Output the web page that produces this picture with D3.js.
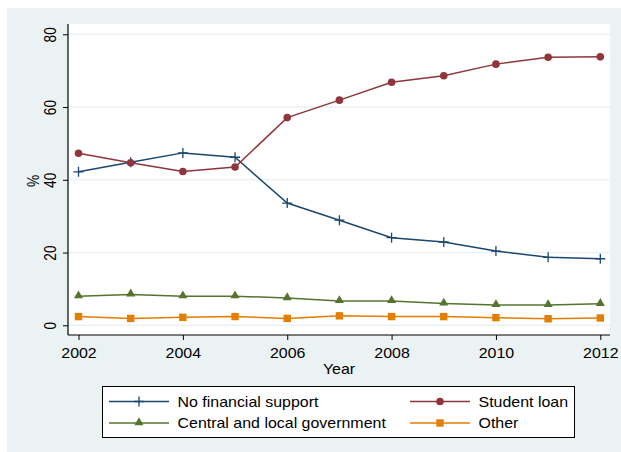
<!DOCTYPE html>
<html><head><meta charset="utf-8">
<script src="https://cdn.jsdelivr.net/npm/d3@7"></script>
<style>body{margin:0;background:#fff}svg{display:block;font-family:"Liberation Sans",Arial,sans-serif}</style>
</head><body><svg id="c" width="621" height="452"></svg>
<script>
const years = [2002,2003,2004,2005,2006,2007,2008,2009,2010,2011,2012];
const noSupport = [42.2,44.8,47.4,46.2,33.6,28.9,24.1,22.9,20.4,18.7,18.3];
const studentLoan = [47.3,44.7,42.3,43.5,57.1,61.9,66.8,68.6,71.8,73.7,73.8];
const government = [8.0,8.5,8.0,8.0,7.5,6.7,6.7,6.0,5.6,5.6,5.9];
const other = [2.4,1.9,2.2,2.4,1.9,2.6,2.4,2.4,2.1,1.8,2.0];
const yTicks = [0,20,40,60,80];
const xTicks = [2002,2004,2006,2008,2010,2012];
const seriesNames = ["No financial support","Student loan","Central and local government","Other"];

const SX = 1.14; // horizontal stretch of text
const FS = 14;
const svg = d3.select("#c");
const L=68,R=610,T=24,B=335;
svg.append("rect").attr("x",7).attr("y",8).attr("width",614).attr("height",444).attr("fill","#eaf2f3");
svg.append("rect").attr("x",L).attr("y",T).attr("width",R-L).attr("height",B-T).attr("fill","#fff");

const x = d3.scaleLinear().domain([2002,2012]).range([78.5,600.3]);
const y = d3.scaleLinear().domain([0,80]).range([325.3,34.3]);

// gridlines
svg.append("g").selectAll("line").data(yTicks).join("line")
  .attr("x1",L).attr("x2",R).attr("y1",d=>y(d)).attr("y2",d=>y(d))
  .attr("stroke","#eaf2f3").attr("stroke-width",1.5);

// axes
const ya = svg.append("g").attr("transform",`translate(${L},0)`)
  .call(d3.axisLeft(y).tickValues(yTicks).tickSize(5).tickPadding(6));
ya.select(".domain").attr("d",`M0,${T}V${B}`).attr("stroke","#000").attr("stroke-width",1.2);
ya.selectAll(".tick line").attr("stroke","#000");
ya.selectAll(".tick text").attr("font-size",13.7).attr("fill","#000")
  .attr("text-anchor","middle").attr("x",0).attr("y",0).attr("dy",0)
  .attr("transform",`translate(-12,0) scale(${SX},1) rotate(-90)`);

const xa = svg.append("g").attr("transform",`translate(0,${B})`)
  .call(d3.axisBottom(x).tickValues(xTicks).tickFormat(d3.format("d")).tickSize(5).tickPadding(6));
xa.select(".domain").attr("d",`M${L},0H${R}`).attr("stroke","#000").attr("stroke-width",1.2);
xa.selectAll(".tick line").attr("stroke","#000");
xa.selectAll(".tick text").attr("font-size",FS).attr("fill","#000").attr("dy",0).attr("y",0)
  .attr("transform",`translate(0,23.3) scale(${SX},1)`);

svg.append("text").attr("transform",`translate(339,374) scale(${SX},1)`).attr("text-anchor","middle").attr("font-size",FS).text("Year");
svg.append("text").attr("transform",`translate(38.5,181) scale(${SX},1) rotate(-90)`).attr("text-anchor","middle").attr("font-size",13.7).text("%");

const colors = ["#1a476f","#90353b","#55752f","#e37e00"];
const data = [noSupport,studentLoan,government,other];
const line = d3.line().x((d,i)=>x(years[i])).y(d=>y(d));

function marker(g,type,color){
  if(type===0){
    g.append("path").attr("d","M-5,0H5M0,-5V5").attr("stroke",color).attr("stroke-width",1.3).attr("fill","none");
  } else if(type===1){
    g.append("circle").attr("r",3.8).attr("fill",color);
  } else if(type===2){
    g.append("path").attr("d",d3.symbol(d3.symbolTriangle,36)()).attr("fill",color).attr("transform","translate(0,-0.5)");
  } else {
    g.append("rect").attr("x",-3.7).attr("y",-3.7).attr("width",7.4).attr("height",7.4).attr("fill",color);
  }
}

data.forEach((s,k)=>{
  svg.append("path").datum(s).attr("d",line).attr("fill","none").attr("stroke",colors[k]).attr("stroke-width",1.5);
  s.forEach((v,i)=>{
    const g = svg.append("g").attr("transform",`translate(${x(years[i])},${y(v)})`);
    marker(g,k,colors[k]);
  });
});

// legend
const lg = svg.append("g");
lg.append("rect").attr("x",102.5).attr("y",386.5).attr("width",472).attr("height",51).attr("fill","#fff").attr("stroke","#000").attr("stroke-width",1);
const pos = [[109,401.5],[410,401.5],[109,423],[410,423]];
[0,1,2,3].forEach((k,j)=>{
  const [px,py]=pos[j];
  lg.append("line").attr("x1",px).attr("x2",px+60).attr("y1",py).attr("y2",py).attr("stroke",colors[k]).attr("stroke-width",1.5);
  const g = lg.append("g").attr("transform",`translate(${px+30},${py})`);
  marker(g,k,colors[k]);
  lg.append("text").attr("transform",`translate(${px+68.5},${py+5}) scale(${SX},1)`).attr("font-size",FS).text(seriesNames[k]);
});
</script></body></html>
